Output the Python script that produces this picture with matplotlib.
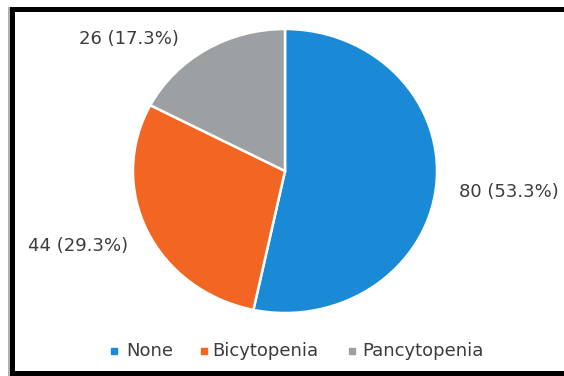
import matplotlib
matplotlib.use("Agg")
import matplotlib.pyplot as plt
from matplotlib.patches import Rectangle
from matplotlib.lines import Line2D

categories = ["None", "Bicytopenia", "Pancytopenia"]
counts = [80, 44, 26]
colors = ["#1b8ad6", "#f26522", "#9ca0a2"]

W, H = 564, 376
fig = plt.figure(figsize=(W / 100, H / 100), dpi=100)
fig.patch.set_facecolor("white")

def px(x0, y0, x1, y1):
    # pixel box (top-left origin) -> figure fraction rect
    return [x0 / W, 1 - y1 / H, (x1 - x0) / W, (y1 - y0) / H]

ax = fig.add_axes(px(133, 29, 437, 313))
ax.pie(counts, colors=colors, startangle=90, counterclock=False,
       wedgeprops=dict(edgecolor="white", linewidth=1.8))
ax.set_aspect("auto")
ax.set_xlim(-1, 1)
ax.set_ylim(-1, 1)
ax.axis("off")

total = sum(counts)
labels = [f"{c} ({c / total * 100:.1f}%)" for c in counts]
label_pos = [(509, 192), (78, 246), (129, 39)]
txt_color = "#3c3c3c"
font = "DejaVu Sans"
for lab, (x, y) in zip(labels, label_pos):
    fig.text(x / W, 1 - y / H, lab, ha="center", va="center",
             fontsize=13, color=txt_color, family=font)

# legend row
leg_items = [(114, 126), (204, 212), (352, 362)]
for (mx, tx), name, col in zip(leg_items, categories, colors):
    fig.add_artist(Line2D([mx / W], [1 - 351 / H], marker="s", markersize=4,
                          color=col, linestyle="none",
                          transform=fig.transFigure))
    fig.text(tx / W, 1 - 351 / H, name, ha="left", va="center",
             fontsize=13, color=txt_color, family=font)

# frame around the figure (top, left, bottom)
for rect in [px(10, 7, W, 12), px(10, 7, 15, 376), px(10, 371, W, 376)]:
    fig.add_artist(Rectangle((rect[0], rect[1]), rect[2], rect[3],
                             transform=fig.transFigure, facecolor="black",
                             edgecolor="none"))
fig.add_artist(Rectangle((8 / W, 0), 2 / W, 1 - 7 / H,
                         transform=fig.transFigure, facecolor="#b0b0b0",
                         edgecolor="none"))

fig.savefig("out.png", dpi=100)
